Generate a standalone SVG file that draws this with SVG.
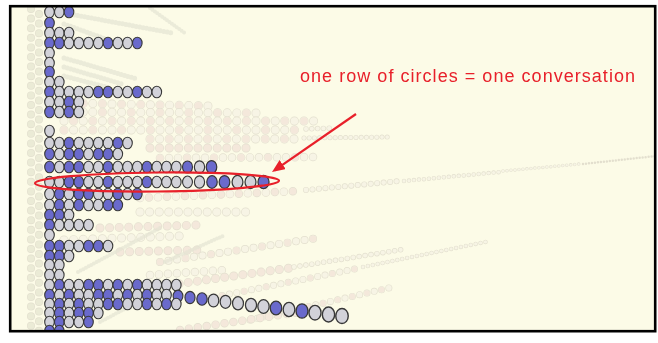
<svg xmlns="http://www.w3.org/2000/svg" xmlns:xlink="http://www.w3.org/1999/xlink" width="658" height="343" viewBox="0 0 658 343">
  <style>
    .fo{fill:none;stroke:#d3cebf;stroke-linecap:round}
    .fw{fill:none;stroke:#f3f1e4;stroke-linecap:round}
    .fp{fill:none;stroke:#eedcd4;stroke-linecap:round}
    .fg{fill:none;stroke:#dfe2cc;stroke-linecap:round}
    .fh{fill:none;stroke:#d4d4c6;stroke-linecap:round;opacity:0.7}
    .red{fill:none;stroke:#e8202a;stroke-width:2.2}
    .label{font-family:"Liberation Sans",Arial,sans-serif;font-size:18px;fill:#e8202a}
  </style>
  <defs>
    <ellipse id="g" cx="0" cy="0" rx="4.8" ry="5.8" fill="#d2d2d9" stroke="#383838" stroke-width="1.1"/>
    <ellipse id="b" cx="0" cy="0" rx="4.8" ry="5.8" fill="#6a6acc" stroke="#383838" stroke-width="1.1"/>
    <clipPath id="inner"><rect x="11" y="7" width="643" height="323"/></clipPath>
    <marker id="ah" markerUnits="userSpaceOnUse" markerWidth="14" markerHeight="12" refX="10" refY="5.5" orient="auto">
      <path d="M0,0 L13,5.5 L0,11 Z" fill="#e8202a"/>
    </marker>
  </defs>

  <rect width="658" height="343" fill="#ffffff"/>
  <rect x="10" y="6" width="645" height="325" fill="#fcfbe7"/>

  <g clip-path="url(#inner)">
    <!-- receding rows, faded -->
    <g id="background-rows" opacity="0.6">
      <!-- ghost columns -->
      <path class="fo" d="M31,9 V332" stroke-width="8" stroke-dasharray="0 9.6"/>
      <path class="fg" d="M31,9 V332" stroke-width="6.6" stroke-dasharray="0 9.6"/>
      <path class="fo" d="M39,14 V332" stroke-width="8" stroke-dasharray="0 9.6"/>
      <path class="fg" d="M39,14 V332" stroke-width="6.6" stroke-dasharray="0 9.6"/>

      <!-- upper diagonal bands -->
      <path class="fh" d="M64,13 L172,33" stroke-width="5" stroke-dasharray="0 3.5"/>
      <path class="fh" d="M150,8 L186,34" stroke-width="4" stroke-dasharray="0 3"/>
      <path class="fh" d="M64,24 L128,47" stroke-width="5" stroke-dasharray="0 3.5"/>
      <path class="fh" d="M62,36 L100,45" stroke-width="5" stroke-dasharray="0 3.5"/>
      <path class="fh" d="M64,58 L137,79" stroke-width="5" stroke-dasharray="0 3.5"/>
      <path class="fh" d="M64,67 L122,84" stroke-width="5" stroke-dasharray="0 3.5"/>
      <path class="fh" d="M64,76 L110,88" stroke-width="5" stroke-dasharray="0 3.5"/>

      <!-- middle block -->
      <path class="fo" d="M64,103 L210,106" stroke-width="9" stroke-dasharray="0 9.6"/>
      <path class="fw" d="M64,103 L210,106" stroke-width="7.6" stroke-dasharray="0 9.6"/>
      <path class="fp" d="M64,103 L210,106" stroke-width="7.6" stroke-dasharray="0 19.2"/>
      <path class="fo" d="M64,112 L258,113" stroke-width="9" stroke-dasharray="0 9.6"/>
      <path class="fw" d="M64,112 L258,113" stroke-width="7.6" stroke-dasharray="0 9.6"/>
      <path class="fp" d="M64,112 L258,113" stroke-width="7.6" stroke-dasharray="0 28.8" stroke-dashoffset="-9.6"/>
      <path class="fo" d="M64,121 L318,121" stroke-width="9" stroke-dasharray="0 9.6"/>
      <path class="fw" d="M64,121 L318,121" stroke-width="7.6" stroke-dasharray="0 9.6"/>
      <path class="fp" d="M64,121 L318,121" stroke-width="7.6" stroke-dasharray="0 19.2" stroke-dashoffset="-9.6"/>
      <path class="fo" d="M64,130 L300,130" stroke-width="9" stroke-dasharray="0 9.6"/>
      <path class="fw" d="M64,130 L300,130" stroke-width="7.6" stroke-dasharray="0 9.6"/>
      <path class="fp" d="M64,130 L300,130" stroke-width="7.6" stroke-dasharray="0 28.8"/>
      <path class="fo" d="M306,129 L334,128" stroke-width="5.5" stroke-dasharray="0 5.8"/>
      <path class="fw" d="M306,129 L334,128" stroke-width="4.3" stroke-dasharray="0 5.8"/>
      <path class="fo" d="M150,139 L300,139" stroke-width="9" stroke-dasharray="0 9.6"/>
      <path class="fw" d="M150,139 L300,139" stroke-width="7.6" stroke-dasharray="0 9.6"/>
      <path class="fp" d="M150,139 L300,139" stroke-width="7.6" stroke-dasharray="0 19.2"/>
      <path class="fo" d="M304,138 L392,137" stroke-width="5" stroke-dasharray="0 5.2"/>
      <path class="fw" d="M304,138 L392,137" stroke-width="3.8" stroke-dasharray="0 5.2"/>
      <path class="fo" d="M150,148 L250,148" stroke-width="9" stroke-dasharray="0 9.6"/>
      <path class="fp" d="M150,148 L250,148" stroke-width="7.6" stroke-dasharray="0 9.6"/>
      <path class="fo" d="M160,158 L316,157" stroke-width="8.5" stroke-dasharray="0 9"/>
      <path class="fw" d="M160,158 L316,157" stroke-width="7.1" stroke-dasharray="0 9"/>
      <path class="fp" d="M160,158 L316,157" stroke-width="7.1" stroke-dasharray="0 27"/>

      <!-- long receding row -->
      <path class="fo" d="M140,198 L300,191" stroke-width="8.5" stroke-dasharray="0 9"/>
      <path class="fp" d="M140,198 L300,191" stroke-width="7.1" stroke-dasharray="0 9"/>
      <path class="fw" d="M140,198 L300,191" stroke-width="7.1" stroke-dasharray="0 18"/>
      <path class="fo" d="M306,190 L400,181" stroke-width="6" stroke-dasharray="0 6.5"/>
      <path class="fw" d="M306,190 L400,181" stroke-width="4.8" stroke-dasharray="0 6.5"/>
      <path class="fo" d="M404,181 L500,172" stroke-width="4.5" stroke-dasharray="0 5"/>
      <path class="fw" d="M404,181 L500,172" stroke-width="3.3" stroke-dasharray="0 5"/>
      <path class="fo" d="M503,171 L580,164" stroke-width="3.5" stroke-dasharray="0 4"/>
      <path class="fw" d="M503,171 L580,164" stroke-width="2.4" stroke-dasharray="0 4"/>
      <path class="fo" d="M583,164 L656,156" stroke-width="2.5" stroke-dasharray="0 3"/>

      <!-- lower rows -->
      <path class="fo" d="M140,212 L247,212" stroke-width="9" stroke-dasharray="0 9.6"/>
      <path class="fw" d="M140,212 L247,212" stroke-width="7.6" stroke-dasharray="0 9.6"/>
      <path class="fo" d="M100,228 L200,225" stroke-width="9" stroke-dasharray="0 9.6"/>
      <path class="fp" d="M100,228 L200,225" stroke-width="7.6" stroke-dasharray="0 9.6"/>
      <path class="fo" d="M64,240 L180,236" stroke-width="9" stroke-dasharray="0 9.6"/>
      <path class="fw" d="M64,240 L180,236" stroke-width="7.6" stroke-dasharray="0 9.6"/>
      <path class="fo" d="M120,252 L200,250" stroke-width="9" stroke-dasharray="0 9.6"/>
      <path class="fp" d="M120,252 L200,250" stroke-width="7.6" stroke-dasharray="0 9.6"/>
      <path class="fo" d="M160,262 L318,238" stroke-width="8" stroke-dasharray="0 8.6"/>
      <path class="fw" d="M160,262 L318,238" stroke-width="6.6" stroke-dasharray="0 8.6"/>
      <path class="fp" d="M160,262 L318,238" stroke-width="6.6" stroke-dasharray="0 25.8"/>
      <path class="fo" d="M150,275 L225,270" stroke-width="8.5" stroke-dasharray="0 9"/>
      <path class="fw" d="M150,275 L225,270" stroke-width="7.1" stroke-dasharray="0 9"/>
      <path class="fo" d="M170,285 L290,268" stroke-width="9" stroke-dasharray="0 9.2"/>
      <path class="fp" d="M170,285 L290,268" stroke-width="7.6" stroke-dasharray="0 9.2"/>
      <path class="fo" d="M294,267 L406,249" stroke-width="5.5" stroke-dasharray="0 6"/>
      <path class="fw" d="M294,267 L406,249" stroke-width="4.3" stroke-dasharray="0 6"/>
      <path class="fo" d="M200,300 L360,268" stroke-width="7" stroke-dasharray="0 7.5"/>
      <path class="fw" d="M200,300 L360,268" stroke-width="5.7" stroke-dasharray="0 7.5"/>
      <path class="fp" d="M200,300 L360,268" stroke-width="5.7" stroke-dasharray="0 22.5"/>
      <path class="fo" d="M363,267 L490,241" stroke-width="4.5" stroke-dasharray="0 5"/>
      <path class="fw" d="M363,267 L490,241" stroke-width="3.3" stroke-dasharray="0 5"/>
      <path class="fo" d="M250,320 L393,287" stroke-width="7" stroke-dasharray="0 7.5"/>
      <path class="fw" d="M250,320 L393,287" stroke-width="5.7" stroke-dasharray="0 7.5"/>
      <path class="fp" d="M250,320 L393,287" stroke-width="5.7" stroke-dasharray="0 15"/>
      <path class="fo" d="M180,330 L300,312" stroke-width="8.5" stroke-dasharray="0 9"/>
      <path class="fp" d="M180,330 L300,312" stroke-width="7.1" stroke-dasharray="0 9"/>

      <!-- steep bands -->
      <path class="fh" d="M78,272 L160,228" stroke-width="4" stroke-dasharray="0 3"/>
      <path class="fh" d="M100,322 L176,282" stroke-width="4" stroke-dasharray="0 3"/>
      <path class="fh" d="M165,262 L225,235" stroke-width="4" stroke-dasharray="0 3"/>
    </g>

    <!-- foreground rows -->
    <g id="rows">
      <g id="r00"><use href="#g" x="49.5" y="12"/><use href="#g" x="59.3" y="12"/><use href="#b" x="69" y="12"/></g>
      <g id="r01"><use href="#b" x="49.5" y="23"/></g>
      <g id="r02"><use href="#g" x="49.5" y="33"/><use href="#g" x="59.3" y="33"/><use href="#g" x="69" y="33"/></g>
      <g id="r03"><use href="#b" x="49.5" y="43"/><use href="#b" x="59.3" y="43"/><use href="#g" x="69" y="43"/><use href="#g" x="78.8" y="43"/><use href="#g" x="88.5" y="43"/><use href="#g" x="98.3" y="43"/><use href="#b" x="108" y="43"/><use href="#g" x="117.8" y="43"/><use href="#g" x="127.5" y="43"/><use href="#b" x="137.3" y="43"/></g>
      <g id="r04"><use href="#g" x="49.5" y="53"/></g>
      <g id="r05"><use href="#g" x="49.5" y="63"/></g>
      <g id="r06"><use href="#b" x="49.5" y="72"/></g>
      <g id="r07"><use href="#g" x="49.5" y="82"/><use href="#g" x="59.3" y="82"/></g>
      <g id="r08"><use href="#b" x="49.5" y="92"/><use href="#g" x="59.3" y="92"/><use href="#g" x="69" y="92"/><use href="#g" x="78.8" y="92"/><use href="#g" x="88.5" y="92"/><use href="#b" x="98.3" y="92"/><use href="#b" x="108" y="92"/><use href="#g" x="117.8" y="92"/><use href="#g" x="127.5" y="92"/><use href="#b" x="137.3" y="92"/><use href="#g" x="147" y="92"/><use href="#g" x="156.8" y="92"/></g>
      <g id="r09"><use href="#g" x="49.5" y="102"/><use href="#g" x="59.3" y="102"/><use href="#b" x="69" y="102"/><use href="#g" x="78.8" y="102"/></g>
      <g id="r10"><use href="#b" x="49.5" y="112"/><use href="#g" x="59.3" y="112"/><use href="#b" x="69" y="112"/><use href="#g" x="78.8" y="112"/></g>
      <g id="r11"><use href="#g" x="49.5" y="131"/></g>
      <g id="r12"><use href="#g" x="49.5" y="143"/><use href="#g" x="59.3" y="143"/><use href="#b" x="69" y="143"/><use href="#g" x="78.8" y="143"/><use href="#g" x="88.5" y="143"/><use href="#g" x="98.3" y="143"/><use href="#g" x="108" y="143"/><use href="#b" x="117.8" y="143"/><use href="#g" x="127.5" y="143"/></g>
      <g id="r13"><use href="#b" x="49.5" y="154"/><use href="#g" x="59.3" y="154"/><use href="#b" x="69" y="154"/><use href="#b" x="78.8" y="154"/><use href="#g" x="88.5" y="154"/><use href="#b" x="98.3" y="154"/><use href="#b" x="108" y="154"/><use href="#g" x="117.8" y="154"/></g>
      <g id="r14"><use href="#b" x="49.5" y="167"/><use href="#g" x="59.3" y="167"/><use href="#b" x="69" y="167"/><use href="#b" x="78.8" y="167"/><use href="#g" x="88.5" y="167"/><use href="#g" x="98.3" y="167"/><use href="#b" x="108" y="167"/><use href="#g" x="117.8" y="167"/><use href="#g" x="127.5" y="167"/><use href="#g" x="137.3" y="167"/><use href="#b" x="147" y="167"/><use href="#g" x="156.8" y="167"/><use href="#g" x="166.5" y="167"/><use href="#g" x="176.3" y="167"/><use href="#b" transform="translate(187.5,167) scale(1.04)"/><use href="#g" transform="translate(199.5,167) scale(1.07)"/><use href="#b" transform="translate(211.5,167) scale(1.1)"/></g>
      <g id="r15"><use href="#g" x="49.5" y="182"/><use href="#g" x="59.3" y="182"/><use href="#b" x="69" y="182"/><use href="#b" x="78.8" y="182"/><use href="#g" x="88.5" y="182"/><use href="#g" x="98.3" y="182"/><use href="#b" x="108" y="182"/><use href="#g" x="117.8" y="182"/><use href="#g" x="127.5" y="182"/><use href="#g" x="137.3" y="182"/><use href="#b" x="147" y="182"/><use href="#g" x="156.8" y="182"/><use href="#g" x="166.5" y="182"/><use href="#g" x="176.3" y="182"/><use href="#g" transform="translate(187.5,182) scale(1.03)"/><use href="#g" transform="translate(199.5,182) scale(1.06)"/><use href="#b" transform="translate(212,182) scale(1.09)"/><use href="#b" transform="translate(224.5,182) scale(1.11)"/><use href="#g" transform="translate(237.5,182) scale(1.13)"/><use href="#g" transform="translate(250.5,182) scale(1.14)"/><use href="#b" transform="translate(263.5,182) scale(1.15)"/></g>
      <g id="r16"><use href="#g" x="49.5" y="194"/><use href="#b" x="59.3" y="194"/><use href="#g" x="69" y="194"/><use href="#b" x="78.8" y="194"/><use href="#b" x="88.5" y="194"/><use href="#g" x="98.3" y="194"/><use href="#g" x="108" y="194"/><use href="#b" x="117.8" y="194"/><use href="#g" x="127.5" y="194"/><use href="#b" x="137.3" y="194"/></g>
      <g id="r17"><use href="#g" x="49.5" y="205"/><use href="#b" x="59.3" y="205"/><use href="#g" x="69" y="205"/><use href="#b" x="78.8" y="205"/><use href="#g" x="88.5" y="205"/><use href="#g" x="98.3" y="205"/><use href="#b" x="108" y="205"/><use href="#b" x="117.8" y="205"/></g>
      <g id="r18"><use href="#b" x="49.5" y="215"/><use href="#b" x="59.3" y="215"/><use href="#g" x="69" y="215"/></g>
      <g id="r19"><use href="#b" x="49.5" y="225"/><use href="#g" x="59.3" y="225"/><use href="#g" x="69" y="225"/><use href="#g" x="78.8" y="225"/><use href="#g" x="88.5" y="225"/></g>
      <g id="r20"><use href="#g" x="49.5" y="235"/></g>
      <g id="r21"><use href="#b" x="49.5" y="246"/><use href="#b" x="59.3" y="246"/><use href="#g" x="69" y="246"/><use href="#g" x="78.8" y="246"/><use href="#b" x="88.5" y="246"/><use href="#b" x="98.3" y="246"/><use href="#g" x="108" y="246"/></g>
      <g id="r22"><use href="#b" x="49.5" y="256"/><use href="#b" x="59.3" y="256"/><use href="#g" x="69" y="256"/></g>
      <g id="r23"><use href="#g" x="49.5" y="265"/><use href="#g" x="59.3" y="265"/></g>
      <g id="r24"><use href="#g" x="49.5" y="275"/><use href="#g" x="59.3" y="275"/></g>
      <g id="r25"><use href="#g" x="49.5" y="285"/><use href="#b" x="59.3" y="285"/><use href="#g" x="69" y="285"/><use href="#g" x="78.8" y="285"/><use href="#b" x="88.5" y="285"/><use href="#b" x="98.3" y="285"/><use href="#g" x="108" y="285"/><use href="#b" x="117.8" y="285"/><use href="#g" x="127.5" y="285"/><use href="#b" x="137.3" y="285"/><use href="#g" x="147" y="285"/><use href="#g" x="156.8" y="285"/><use href="#g" x="166.5" y="285"/><use href="#g" x="176.3" y="285"/></g>
      <g id="r26"><use href="#b" x="49.5" y="295"/><use href="#g" x="59.3" y="295"/><use href="#b" x="69" y="295"/><use href="#g" x="78.8" y="295"/><use href="#g" x="88.5" y="295"/><use href="#b" x="98.3" y="295"/><use href="#b" x="108" y="295"/><use href="#g" x="117.8" y="295"/><use href="#b" x="127.5" y="295"/><use href="#g" x="137.3" y="295"/><use href="#b" x="147" y="295"/><use href="#g" x="156.8" y="295"/><use href="#g" x="166.5" y="295"/><use href="#b" transform="translate(178,296) scale(1.02)"/><use href="#b" transform="translate(190,297.5) scale(1.05)"/><use href="#b" transform="translate(202,299) scale(1.08)"/><use href="#g" transform="translate(213.5,300.5) scale(1.1)"/><use href="#g" transform="translate(225.5,301.8) scale(1.12)"/><use href="#g" transform="translate(238,303.3) scale(1.14)"/><use href="#g" transform="translate(251,305) scale(1.16)"/><use href="#g" transform="translate(263.5,306.5) scale(1.18)"/><use href="#b" transform="translate(276,308) scale(1.2)"/><use href="#g" transform="translate(289,309.5) scale(1.22)"/><use href="#b" transform="translate(302,311) scale(1.24)"/><use href="#g" transform="translate(315,312.7) scale(1.26)"/><use href="#g" transform="translate(328.5,314.5) scale(1.28)"/><use href="#g" transform="translate(342,316) scale(1.3)"/></g>
      <g id="r27"><use href="#g" x="49.5" y="304"/><use href="#b" x="59.3" y="304"/><use href="#g" x="69" y="304"/><use href="#b" x="78.8" y="304"/><use href="#g" x="88.5" y="304"/><use href="#g" x="98.3" y="304"/><use href="#b" x="108" y="304"/><use href="#b" x="117.8" y="304"/><use href="#g" x="127.5" y="304"/><use href="#g" x="137.3" y="304"/><use href="#b" x="147" y="304"/><use href="#g" x="156.8" y="304"/><use href="#b" x="166.5" y="304"/><use href="#g" x="176.3" y="304"/></g>
      <g id="r28"><use href="#g" x="49.5" y="313"/><use href="#b" x="59.3" y="313"/><use href="#g" x="69" y="313"/><use href="#b" x="78.8" y="313"/><use href="#b" x="88.5" y="313"/><use href="#g" x="98.3" y="313"/></g>
      <g id="r29"><use href="#g" x="49.5" y="322"/><use href="#b" x="59.3" y="322"/><use href="#g" x="69" y="322"/><use href="#g" x="78.8" y="322"/><use href="#b" x="88.5" y="322"/></g>
      <g id="r30"><use href="#b" x="49.5" y="331"/><use href="#b" x="59.3" y="331"/></g>
    </g>
  </g>

  <!-- callout -->
  <g id="callout">
    <ellipse class="red" cx="157" cy="182" rx="122" ry="9.5" transform="rotate(-0.6 157 182)"/>
    <path class="red" d="M356,114 L274.5,170.3" marker-end="url(#ah)"/>
    <text class="label" x="300" y="82" textLength="335" lengthAdjust="spacing">one row of circles = one conversation</text>
  </g>

  <!-- frame -->
  <rect x="10.2" y="6.2" width="645" height="325" fill="none" stroke="#000000" stroke-width="2.6"/>
</svg>
